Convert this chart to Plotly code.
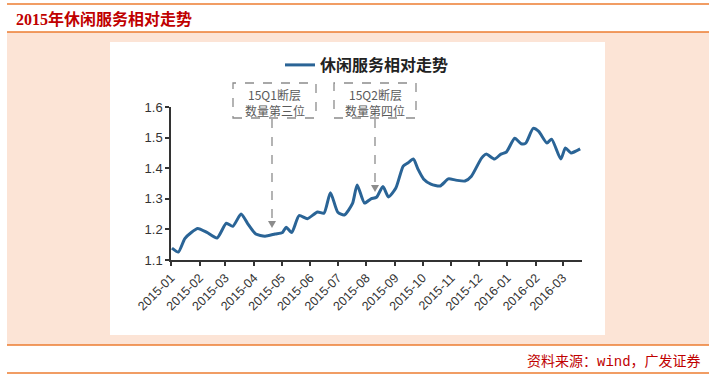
import plotly.graph_objects as go

# ---- data ----
dates = [
    "2015-01-02", "2015-01-09", "2015-01-16", "2015-01-23", "2015-01-30",
    "2015-02-09", "2015-02-20", "2015-03-02", "2015-03-09", "2015-03-18",
    "2015-03-25", "2015-04-03", "2015-04-13", "2015-04-24", "2015-05-02",
    "2015-05-06", "2015-05-12", "2015-05-20", "2015-05-29", "2015-06-09",
    "2015-06-16", "2015-06-23", "2015-07-01", "2015-07-08", "2015-07-17",
    "2015-07-22", "2015-07-30", "2015-08-06", "2015-08-12", "2015-08-19",
    "2015-08-25", "2015-09-02", "2015-09-10", "2015-09-15", "2015-09-21",
    "2015-09-26", "2015-10-02", "2015-10-10", "2015-10-20", "2015-10-29",
    "2015-11-06", "2015-11-16", "2015-11-23", "2015-12-04", "2015-12-09",
    "2015-12-18", "2015-12-25", "2015-12-31", "2016-01-09", "2016-01-16",
    "2016-01-21", "2016-01-29", "2016-02-04", "2016-02-13", "2016-02-18",
    "2016-02-28", "2016-03-04", "2016-03-10", "2016-03-20",
]
values = [
    1.139, 1.126, 1.170, 1.190, 1.203,
    1.190, 1.172, 1.220, 1.210, 1.250,
    1.220, 1.185, 1.178, 1.185, 1.190,
    1.207, 1.190, 1.245, 1.235, 1.257,
    1.253, 1.320, 1.256, 1.247, 1.285,
    1.345, 1.286, 1.300, 1.305, 1.340,
    1.306, 1.335, 1.407, 1.417, 1.430,
    1.397, 1.365, 1.348, 1.342, 1.365,
    1.361, 1.358, 1.374, 1.433, 1.446,
    1.430, 1.446, 1.453, 1.498, 1.480,
    1.482, 1.530, 1.520, 1.482, 1.495,
    1.430, 1.466, 1.450, 1.463,
]
series_name = "休闲服务相对走势"
tick_dates = [
    "2015-01-01", "2015-02-01", "2015-03-01", "2015-04-01", "2015-05-01",
    "2015-06-01", "2015-07-01", "2015-08-01", "2015-09-01", "2015-10-01",
    "2015-11-01", "2015-12-01", "2016-01-01", "2016-02-01", "2016-03-01",
]
tick_labels = [
    "2015-01", "2015-02", "2015-03", "2015-04", "2015-05", "2015-06",
    "2015-07", "2015-08", "2015-09", "2015-10", "2015-11", "2015-12",
    "2016-01", "2016-02", "2016-03",
]
y_ticks = [1.1, 1.2, 1.3, 1.4, 1.5, 1.6]
title_text = "2015年休闲服务相对走势"
source_text = "资料来源：wind，广发证券"
note1_lines = ["15Q1断层", "数量第三位"]
note2_lines = ["15Q2断层", "数量第四位"]

# ---- layout geometry ----
FW, FH = 715, 379
ML, MR, MT, MB = 171, 133, 107, 119
PW = FW - ML - MR
PH = FH - MT - MB


def px(x):
    return (x - ML) / PW


def py(y):
    return (FH - MB - y) / PH


ORANGE = "#ed7d31"
PINK = "#fce4d6"
RED = "#c00000"
GRAY = "#8c8c8c"
CJK = "Noto Sans CJK SC"

fig = go.Figure()
fig.add_trace(go.Scatter(
    x=dates, y=values, mode="lines", name=series_name,
    line=dict(color="#2a6496", width=3, shape="spline", smoothing=0.6),
    showlegend=True,
))

shapes = []
# frame lines and backgrounds
shapes.append(dict(type="rect", xref="paper", yref="paper", layer="below",
                   x0=px(7), x1=px(709), y0=py(345), y1=py(32),
                   fillcolor=PINK, line=dict(width=0)))
shapes.append(dict(type="rect", xref="paper", yref="paper", layer="below",
                   x0=px(110), x1=px(605), y0=py(335), y1=py(42),
                   fillcolor="white", line=dict(width=0)))
for yy in (4, 32, 345, 373):
    shapes.append(dict(type="line", xref="paper", yref="paper",
                       x0=px(7), x1=px(709), y0=py(yy), y1=py(yy),
                       line=dict(color=ORANGE, width=1.5)))
# annotation boxes
for (x0, x1) in ((233, 316), (334, 416)):
    shapes.append(dict(type="rect", xref="paper", yref="paper",
                       x0=px(x0), x1=px(x1), y0=py(118), y1=py(83),
                       line=dict(color=GRAY, width=1.3, dash="dash"),
                       fillcolor="rgba(0,0,0,0)"))
# dashed arrow shafts
for (xa, ya) in ((272, 222), (375, 186)):
    shapes.append(dict(type="line", xref="paper", yref="paper",
                       x0=px(xa), x1=px(xa), y0=py(119), y1=py(ya),
                       line=dict(color=GRAY, width=1.3, dash="dash")))
    shapes.append(dict(type="path", xref="paper", yref="paper",
                       path=f"M {px(xa-4)},{py(ya-1)} L {px(xa+4)},{py(ya-1)} L {px(xa)},{py(ya+6)} Z",
                       fillcolor=GRAY, line=dict(width=0)))

annotations = [
    dict(text=f"<b>{title_text}</b>", xref="paper", yref="paper",
         x=px(14), y=py(19), xanchor="left", yanchor="middle", showarrow=False,
         font=dict(family="Liberation Serif, " + CJK, size=16, color=RED)),
    dict(text=source_text, xref="paper", yref="paper",
         x=px(703), y=py(362), xanchor="right", yanchor="middle", showarrow=False,
         font=dict(family="Liberation Mono, " + CJK, size=14, color=RED)),
]
for cx, lines in ((274.5, note1_lines), (375, note2_lines)):
    for cy, t in zip((94, 110.5), lines):
        annotations.append(dict(text=t, xref="paper", yref="paper",
                                x=px(cx), y=py(cy), xanchor="center", yanchor="middle",
                                showarrow=False,
                                font=dict(family=CJK, size=12, color="#5a5a5a")))

fig.update_layout(
    width=FW, height=FH,
    margin=dict(l=ML, r=MR, t=MT, b=MB, pad=0, autoexpand=False),
    paper_bgcolor="white", plot_bgcolor="white",
    shapes=shapes, annotations=annotations,
    legend=dict(x=px(280), y=py(65), xanchor="left", yanchor="middle",
                orientation="h", bgcolor="rgba(0,0,0,0)",
                font=dict(family=CJK, size=16, color="#222222", weight="bold"),
                itemwidth=30),
    xaxis=dict(type="date", range=["2015-01-01", "2016-03-22"],
               tickvals=tick_dates, ticktext=tick_labels, tickangle=-45,
               showline=True, linecolor="#333333", linewidth=1.5,
               ticks="outside", ticklen=4, tickcolor="#333333", tickwidth=1.5,
               showgrid=False, zeroline=False,
               tickfont=dict(family="Liberation Sans, Arial", size=12.5, color="#333333")),
    yaxis=dict(range=[1.1, 1.6], tickvals=y_ticks,
               ticktext=[f"{v:.1f}" for v in y_ticks],
               showline=True, linecolor="#333333", linewidth=1.5,
               ticks="outside", ticklen=4, tickcolor="#333333", tickwidth=1.5,
               showgrid=False, zeroline=False,
               tickfont=dict(family="Liberation Sans, Arial", size=13, color="#333333")),
)

fig.write_html("out.html", config={"displayModeBar": False},
               post_script="document.body.style.margin='0';")
